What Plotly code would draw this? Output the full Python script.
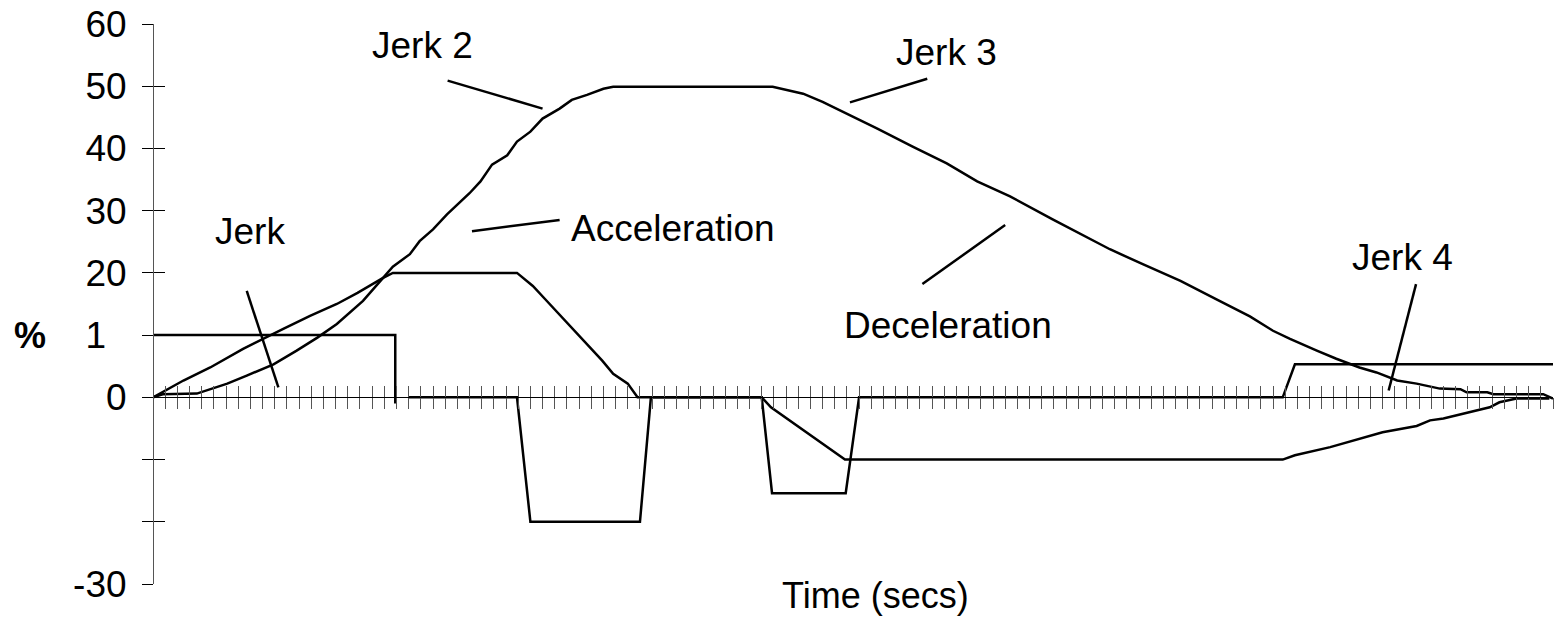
import plotly.graph_objects as go

# time axis runs 0..115 (one minor tick per unit), values in percent
jerk_t = [0, 19.9, 19.9, None, 21.0, 29.9, 31.0, 40.0, 40.9, 50.0, 50.85, 56.9, 58.0, 92.8, 93.8, 115]
jerk_v = [10, 10, -1, None, 0, 0, -20, -20, 0, 0, -15.4, -15.4, 0, 0, 5.3, 5.3]

accel_t = [0, 2.5, 4.7, 7.4, 10.7, 12.9, 15.1, 16.8, 18.9, 19.7, 29.9, 31.2, 32.2, 34.25, 36.9,
           37.8, 39.0, 39.8, 50.0, 50.76, 56.84, 92.8, 93.8, 96.7, 99.1, 101.0, 103.8, 104.9,
           106.0, 108.0, 109.8, 110.6, 112.0, 114.7]
accel_v = [0, 2.7, 4.8, 7.8, 11.0, 13.1, 15.0, 16.8, 19.2, 20, 20, 17.9, 15.8, 11.5, 5.9,
           3.8, 2.2, 0, 0, -1.6, -10, -10, -9.3, -8.0, -6.6, -5.6, -4.6, -3.7,
           -3.4, -2.4, -1.6, -0.8, -0.2, -0.2]

vel_t = [0, 0.8, 3.6, 6.1, 7.7, 9.9, 11.8, 13.5, 15.1, 17.25, 18.9, 19.7, 21.1, 21.9, 23.0,
         24.15, 26.0, 26.9, 27.85, 29.1, 29.9, 31.0, 32.0, 33.4, 34.4, 35.65, 37.0, 37.8,
         50.9, 53.4, 55.0, 57.0, 58.1, 59.5, 62.4, 65.2, 67.7, 70.4, 73.9, 76.1, 78.6, 81.3,
         84.4, 87.4, 90.1, 92.0, 93.4, 95.6, 97.2, 99.1, 100.5, 102.2, 103.8, 105.7, 107.4,
         107.9, 109.6, 110.1, 114.2, 115]
vel_v = [0, 0.5, 0.6, 2.2, 3.5, 5.3, 7.5, 9.6, 11.8, 15.5, 19.2, 21.0, 23.0, 25.1, 27.0,
         29.4, 32.8, 34.7, 37.4, 38.9, 41.1, 42.7, 44.8, 46.4, 47.8, 48.6, 49.6, 49.9,
         49.9, 48.8, 47.5, 45.6, 44.6, 43.2, 40.3, 37.6, 34.7, 32.3, 28.6, 26.4, 23.8, 21.4,
         18.7, 15.7, 13.0, 10.7, 9.4, 7.5, 6.2, 4.8, 4.0, 2.7, 2.2, 1.4, 1.3,
         0.8, 0.8, 0.5, 0.5, -0.2]

y_ticks = [-30, -20, -10, 0, 10, 20, 30, 40, 50, 60]
# the "1" sits one digit-width further left than the others in the original
y_labels = ['-30', '', '', '0', '1\u2007', '20', '30', '40', '50', '60']

# label text, text position, pointer line start/end
labels = ['Jerk', 'Jerk 2', 'Acceleration', 'Jerk 3', 'Deceleration', 'Jerk 4']
label_x = [8.0, 22.1, 42.7, 65.2, 65.3, 102.6]
label_y = [26.6, 56.6, 27.2, 55.5, 11.5, 22.4]
ptr_x0 = [7.7, 24.2, 26.2, 57.25, 63.2, 103.75]
ptr_y0 = [17.1, 50.9, 26.7, 47.4, 18.2, 18.2]
ptr_x1 = [10.3, 32.0, 33.4, 63.6, 70.0, 101.5]
ptr_y1 = [1.6, 46.4, 28.5, 51.2, 27.7, 1.1]

FONT = 'Liberation Sans, Arial, sans-serif'
line_style = dict(color='black', width=2.5)

fig = go.Figure()
fig.add_trace(go.Scatter(x=jerk_t, y=jerk_v, mode='lines', line=line_style, name='Jerk'))
fig.add_trace(go.Scatter(x=accel_t, y=accel_v, mode='lines', line=line_style, name='Acceleration'))
fig.add_trace(go.Scatter(x=vel_t, y=vel_v, mode='lines', line=line_style, name='Velocity'))
# empty trace so the second (inside-tick) axes get drawn
fig.add_trace(go.Scatter(x=[None], y=[None], xaxis='x2', yaxis='y2', showlegend=False, hoverinfo='skip'))

for i in range(len(labels)):
    fig.add_shape(type='line', xref='x', yref='y',
                  x0=ptr_x0[i], y0=ptr_y0[i], x1=ptr_x1[i], y1=ptr_y1[i],
                  line=dict(color='black', width=2.5))
    fig.add_annotation(x=label_x[i], y=label_y[i], xref='x', yref='y', text=labels[i],
                       showarrow=False, font=dict(size=37, color='black', family=FONT))

fig.add_annotation(x=0.516, y=-0.02, xref='paper', yref='paper', text='Time (secs)',
                   xanchor='center', yanchor='middle', showarrow=False,
                   font=dict(size=36, color='black', family=FONT))
fig.add_annotation(x=-0.088, y=10, xref='paper', yref='y', text='<b>%</b>',
                   xanchor='center', yanchor='middle', showarrow=False,
                   font=dict(size=36, color='black', family=FONT))

zero_pos = 30 / 90
xcommon = dict(range=[0, 115], dtick=1, tick0=0, ticklen=11, tickwidth=1, tickcolor='#555',
               showticklabels=False, showgrid=False, zeroline=False,
               anchor='free', position=zero_pos)
ycommon = dict(range=[-30, 60], tickmode='array', tickvals=y_ticks, ticklen=11, tickwidth=1,
               tickcolor='black', showgrid=False, zeroline=False, anchor='free', position=0)

fig.update_layout(
    width=1557, height=622,
    margin=dict(l=153, r=4, t=22, b=38),
    paper_bgcolor='white', plot_bgcolor='white',
    showlegend=False,
    font=dict(family=FONT, color='black'),
    xaxis=dict(**xcommon, ticks='outside', showline=True, linecolor='black', linewidth=1),
    xaxis2=dict(**xcommon, ticks='inside', showline=False, overlaying='x', side='bottom'),
    yaxis=dict(**ycommon, ticks='outside', ticktext=y_labels, showline=True, linecolor='#555',
               linewidth=1, tickfont=dict(size=37, family=FONT, color='black'),
               ticklabelstandoff=8),
    yaxis2=dict(**ycommon, ticks='inside', showticklabels=False, overlaying='y', side='left'),
)

fig.write_html("out.html", config={'displayModeBar': False},
               post_script="document.body.style.margin = '0';")
